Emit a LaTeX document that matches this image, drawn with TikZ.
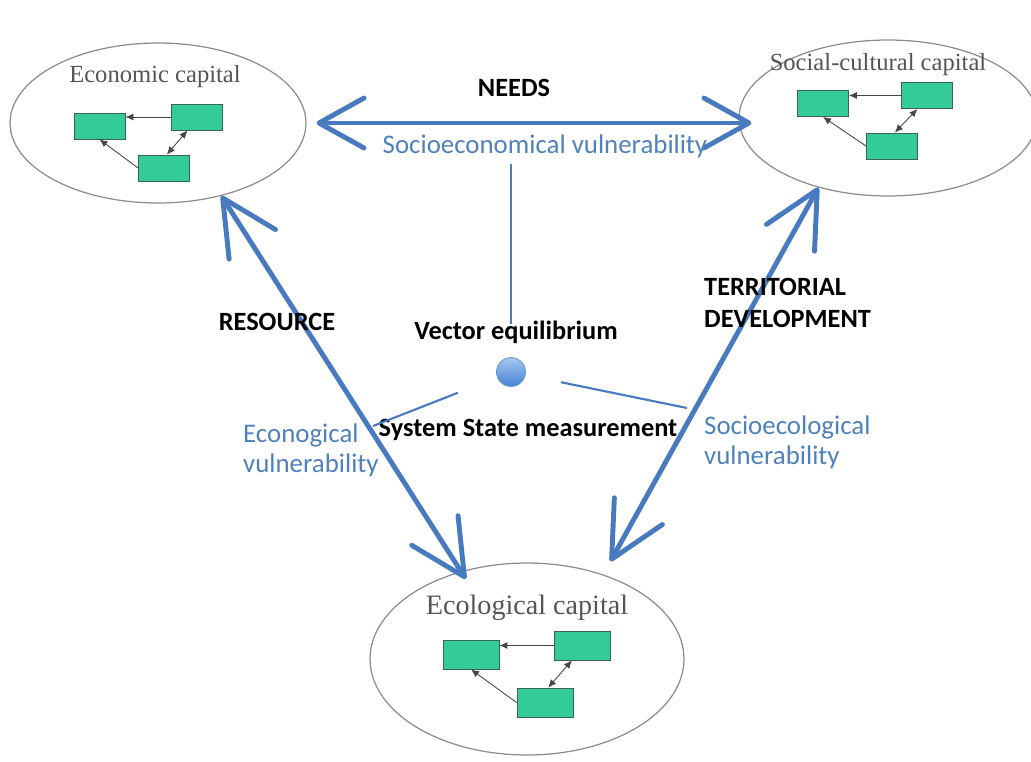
\documentclass[tikz,border=0pt]{standalone}
\usepackage{fontspec}
\setmainfont{Carlito}
\newfontfamily\capfont{Liberation Serif}
\usetikzlibrary{arrows.meta,shapes.geometric}

\definecolor{arrowblue}{RGB}{72,122,192}
\definecolor{textblue}{RGB}{79,129,189}
\definecolor{capgray}{RGB}{140,140,140}
\definecolor{titlegray}{RGB}{85,85,85}
\definecolor{boxgreen}{RGB}{52,204,150}
\definecolor{boxline}{RGB}{60,100,80}
\definecolor{linkgray}{RGB}{70,70,70}

\begin{document}
\begin{tikzpicture}[x=0.02cm,y=-0.02cm,
  capital/.style={ellipse,draw=capgray,line width=0.7pt,inner sep=0},
  captitle/.style={font=\capfont\fontsize{14}{16}\selectfont,text=titlegray},
  box/.style={draw=boxline,fill=boxgreen,line width=0.5pt,minimum width=1.02cm,minimum height=0.52cm,inner sep=0},
  link/.style={draw=linkgray,line width=0.5pt,-{Latex[length=1.6mm,width=1.4mm]}},
  twolink/.style={link,{Latex[length=1.6mm,width=1.4mm]}-{Latex[length=1.6mm,width=1.4mm]}},
  big/.style={draw=arrowblue,line width=2.8pt,line cap=round,
    {Straight Barb[length=11mm,width=11mm,round]}-{Straight Barb[length=11mm,width=11mm,round]}},
  thin/.style={draw=arrowblue,line width=1.2pt},
  lbl/.style={font=\bfseries\fontsize{15}{18}\selectfont},
  vul/.style={font=\fontsize{15.3}{17}\selectfont,text=textblue}]
  \useasboundingbox (0,0) rectangle (1031,761);

  % the three capitals
  \node (econ) at (158,123) [capital,minimum width=5.92cm,minimum height=3.2cm]{};
  \node (social) at (888,118) [capital,minimum width=5.96cm,minimum height=3.12cm]{};
  \node (ecol) at (527,659) [capital,minimum width=6.28cm,minimum height=3.84cm]{};

  \node (econT) at (155,77) [captitle]{Economic capital};
  \node (socialT) at (878,65) [captitle]{Social-cultural capital};
  \node (ecolT) at (527,608) [captitle,font=\capfont\fontsize{16}{18}\selectfont]{Ecological capital};

  \node (econA) at (99.5,126) [box]{};
  \node (econB) at (196.5,117) [box]{};
  \node (econC) at (164,168) [box]{};
  \node (socialA) at (823,103.5) [box]{};
  \node (socialB) at (926.5,95.5) [box]{};
  \node (socialC) at (892,146) [box]{};
  \node (ecolA) at (471,654.5) [box,minimum width=1.12cm,minimum height=0.58cm]{};
  \node (ecolB) at (582,645.5) [box,minimum width=1.12cm,minimum height=0.58cm]{};
  \node (ecolC) at (545,702.5) [box,minimum width=1.12cm,minimum height=0.58cm]{};

  \draw[link] (econB.west) -- (econA.east |- econB.west);
  \draw[twolink] (econC.78) -- (econB.236);
  \draw[link] (econC.west) -- (econA.south);
  \draw[link] (socialB.west) -- (socialA.east |- socialB.west);
  \draw[twolink] (socialC.78) -- (socialB.236);
  \draw[link] (socialC.west) -- (socialA.south);
  \draw[link] (ecolB.west) -- (ecolA.east |- ecolB.west);
  \draw[twolink] (ecolC.78) -- (ecolB.236);
  \draw[link] (ecolC.west) -- (ecolA.south);

  % vectors between capitals
  \draw[big,{Straight Barb[length=9mm,width=10mm,round]}-{Straight Barb[length=9mm,width=10mm,round]},
    shorten <=0.2cm,shorten >=-0.26cm] (econ.east) -- (econ.east -| social.west);
  \draw[big,shorten >=-0.18cm] (econ.311) -- (ecol.127);
  \draw[big,shorten >=0.3cm] (social.225) -- (ecol.48);

  \node (needs) at (514,88) [lbl]{NEEDS};
  \node (needsvul) at (545,146) [vul]{Socioeconomical vulnerability};
  \node (res) at (277,322) [lbl]{RESOURCE};
  \node (resvul) at (237,450) [vul,anchor=west,align=left]{Econogical\\vulnerability};
  \node (terr) at (698,303) [lbl,anchor=west,align=left]{TERRITORIAL\\DEVELOPMENT};
  \node (terrvul) at (698,442) [vul,anchor=west,align=left]{Socioecological\\vulnerability};

  % equilibrium point
  \node (dot) at (511,372) [circle,minimum size=0.58cm,inner sep=0,draw={rgb,255:red,95;green,145;blue,205},
    top color={rgb,255:red,165;green,200;blue,240},bottom color={rgb,255:red,70;green,130;blue,210}]{};
  \node (vec) at (516,332) [lbl]{Vector equilibrium};
  \node (sys) at (528,430) [lbl]{System State measurement};
  \coordinate (sysL) at (373,426);
  \coordinate (sysR) at (687,408);

  \draw[thin] (needsvul.south -| dot) -- ([yshift=-0.2cm]vec.north -| dot);
  \draw[thin,shorten <=1.14cm] (dot.center) -- (sysL);
  \draw[thin,shorten <=1.02cm] (dot.center) -- (sysR);
\end{tikzpicture}
\end{document}
